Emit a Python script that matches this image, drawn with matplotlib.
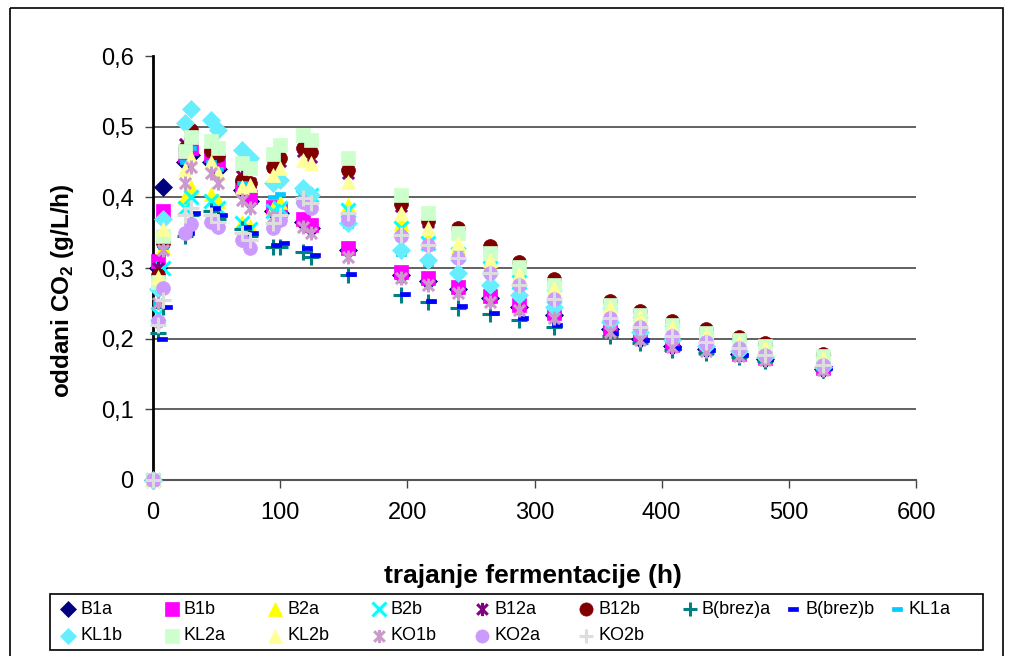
import matplotlib
matplotlib.use("Agg")
import matplotlib.pyplot as plt
from matplotlib.path import Path
from matplotlib.patches import Rectangle

plt.rcParams['font.family'] = ['Liberation Sans', 'DejaVu Sans']
plt.rcParams['mathtext.fontset'] = 'custom'
plt.rcParams['mathtext.bf'] = 'Liberation Sans:bold'
plt.rcParams['mathtext.rm'] = 'Liberation Sans'

# ---- data ----
hours = [0, 4, 8, 25, 30, 46, 51, 70, 76, 94, 100, 118, 124, 153, 195, 216,
         240, 265, 288, 315, 359, 383, 408, 435, 461, 481, 527]
hours_brez_b = [0, 7, 11, 28, 33, 49, 54, 73, 79, 97, 103, 121, 127, 156, 198, 219,
                243, 268, 291, 318, 362, 386, 411, 438, 464, 484, 530]

B1a = [0, 0.30, 0.415, 0.45, 0.46, 0.45, 0.44, 0.41, 0.395, 0.38, 0.378, 0.365, 0.356, 0.325,
       0.29, 0.282, 0.27, 0.257, 0.245, 0.233, 0.213, 0.20, 0.19, 0.186, 0.178, 0.171, 0.157]
B1b = [0, 0.31, 0.38, 0.46, 0.47, 0.46, 0.45, 0.415, 0.40, 0.386, 0.382, 0.37, 0.361, 0.328,
       0.294, 0.286, 0.273, 0.26, 0.248, 0.236, 0.215, 0.202, 0.191, 0.187, 0.179, 0.172, 0.158]
B2a = [0, 0.28, 0.33, 0.40, 0.415, 0.405, 0.395, 0.365, 0.36, 0.385, 0.393, 0.406, 0.40, 0.389,
       0.363, 0.342, 0.33, 0.305, 0.285, 0.265, 0.24, 0.226, 0.213, 0.202, 0.193, 0.185, 0.17]
B2b = [0, 0.235, 0.30, 0.385, 0.40, 0.395, 0.385, 0.363, 0.355, 0.38, 0.385, 0.40, 0.403, 0.382,
       0.356, 0.335, 0.32, 0.30, 0.28, 0.26, 0.235, 0.222, 0.21, 0.20, 0.19, 0.183, 0.168]
B12a = [0, 0.30, 0.34, 0.475, 0.49, 0.47, 0.46, 0.43, 0.42, 0.445, 0.452, 0.465, 0.457, 0.434,
        0.388, 0.365, 0.354, 0.329, 0.306, 0.282, 0.25, 0.236, 0.222, 0.21, 0.20, 0.192, 0.176]
B12b = [0, 0.29, 0.335, 0.47, 0.495, 0.465, 0.46, 0.425, 0.42, 0.443, 0.455, 0.47, 0.464, 0.438,
        0.39, 0.367, 0.356, 0.331, 0.308, 0.284, 0.253, 0.239, 0.225, 0.213, 0.202, 0.194, 0.178]
Bbreza = [0, 0.208, 0.245, 0.345, 0.375, 0.38, 0.37, 0.355, 0.345, 0.33, 0.33, 0.322, 0.315, 0.29,
          0.262, 0.252, 0.243, 0.235, 0.226, 0.217, 0.204, 0.194, 0.184, 0.18, 0.174, 0.168, 0.155]
Bbrezb = [0, 0.20, 0.245, 0.35, 0.378, 0.385, 0.375, 0.358, 0.35, 0.333, 0.335, 0.328, 0.318, 0.291,
          0.263, 0.254, 0.246, 0.236, 0.229, 0.22, 0.208, 0.198, 0.187, 0.184, 0.177, 0.171, 0.158]
KL1a = [0, 0.25, 0.33, 0.45, 0.47, 0.45, 0.44, 0.42, 0.41, 0.40, 0.405, 0.40, 0.39, 0.36,
        0.32, 0.305, 0.29, 0.272, 0.258, 0.242, 0.222, 0.208, 0.196, 0.189, 0.181, 0.173, 0.159]
KL1b = [0, 0.27, 0.37, 0.505, 0.525, 0.51, 0.495, 0.467, 0.455, 0.42, 0.425, 0.413, 0.403, 0.363,
        0.325, 0.311, 0.293, 0.276, 0.262, 0.245, 0.224, 0.21, 0.198, 0.19, 0.182, 0.174, 0.16]
KL2a = [0, 0.28, 0.345, 0.465, 0.485, 0.48, 0.47, 0.448, 0.441, 0.462, 0.474, 0.488, 0.481, 0.455,
        0.403, 0.378, 0.349, 0.321, 0.301, 0.276, 0.248, 0.233, 0.22, 0.208, 0.198, 0.19, 0.175]
KL2b = [0, 0.287, 0.355, 0.44, 0.455, 0.45, 0.435, 0.415, 0.417, 0.431, 0.441, 0.453, 0.448, 0.422,
        0.378, 0.356, 0.335, 0.311, 0.292, 0.271, 0.245, 0.23, 0.217, 0.205, 0.195, 0.188, 0.172]
KO1b = [0, 0.25, 0.325, 0.42, 0.443, 0.435, 0.42, 0.396, 0.385, 0.372, 0.37, 0.358, 0.349, 0.316,
        0.286, 0.276, 0.264, 0.252, 0.24, 0.229, 0.21, 0.198, 0.188, 0.183, 0.176, 0.17, 0.156]
KO2a = [0, 0.225, 0.272, 0.35, 0.362, 0.365, 0.358, 0.34, 0.328, 0.356, 0.368, 0.393, 0.385, 0.37,
        0.345, 0.332, 0.314, 0.293, 0.276, 0.256, 0.229, 0.217, 0.204, 0.195, 0.187, 0.177, 0.163]
KO2b = [0, 0.22, 0.255, 0.375, 0.385, 0.375, 0.365, 0.35, 0.34, 0.363, 0.375, 0.399, 0.392, 0.378,
        0.347, 0.332, 0.314, 0.293, 0.276, 0.256, 0.229, 0.217, 0.204, 0.195, 0.187, 0.177, 0.163]

series_names = ['B1a', 'B1b', 'B2a', 'B2b', 'B12a', 'B12b', 'B(brez)a', 'B(brez)b', 'KL1a',
                'KL1b', 'KL2a', 'KL2b', 'KO1b', 'KO2a', 'KO2b']
y_ticks = [0, 0.1, 0.2, 0.3, 0.4, 0.5, 0.6]
y_tick_labels = ['0', '0,1', '0,2', '0,3', '0,4', '0,5', '0,6']
x_ticks = [0, 100, 200, 300, 400, 500, 600]

# ---- custom markers ----
star_path = Path([(0, -1), (0, 1), (-0.8, -0.8), (0.8, 0.8), (-0.8, 0.8), (0.8, -0.8)],
                 [Path.MOVETO, Path.LINETO, Path.MOVETO, Path.LINETO, Path.MOVETO, Path.LINETO])
dash_path = Path([(-1, -0.4), (1, -0.4), (1, 0.4), (-1, 0.4), (-1, -0.4)],
                 [Path.MOVETO, Path.LINETO, Path.LINETO, Path.LINETO, Path.CLOSEPOLY])

styles = {
    'B1a': dict(marker='D', color='#000080', ms=9, filled=True),
    'B1b': dict(marker='s', color='#FF00FF', ms=10, filled=True),
    'B2a': dict(marker='^', color='#FFFF00', ms=10, filled=True),
    'B2b': dict(marker='x', color='#00FFFF', ms=10, filled=False),
    'B12a': dict(marker=star_path, color='#800080', ms=10, filled=False),
    'B12b': dict(marker='o', color='#800000', ms=10, filled=True),
    'B(brez)a': dict(marker='+', color='#008080', ms=11, filled=False),
    'B(brez)b': dict(marker=dash_path, color='#0000FF', ms=7, filled=True),
    'KL1a': dict(marker=dash_path, color='#00CCFF', ms=7, filled=True),
    'KL1b': dict(marker='D', color='#66EEFF', ms=9, filled=True),
    'KL2a': dict(marker='s', color='#CCFFCC', ms=10, filled=True),
    'KL2b': dict(marker='^', color='#FFFF99', ms=10, filled=True),
    'KO1b': dict(marker=star_path, color='#CC99CC', ms=10, filled=False),
    'KO2a': dict(marker='o', color='#CC99FF', ms=10, filled=True),
    'KO2b': dict(marker='+', color='#DDDDDD', ms=11, filled=False),
}
values = [B1a, B1b, B2a, B2b, B12a, B12b, Bbreza, Bbrezb, KL1a, KL1b, KL2a, KL2b, KO1b, KO2a, KO2b]


def marker_kw(st, scale=1.0):
    if st['filled']:
        return dict(marker=st['marker'], ms=st['ms'] * scale, markerfacecolor=st['color'],
                    markeredgecolor=st['color'], mew=0.5)
    return dict(marker=st['marker'], ms=st['ms'] * scale, color=st['color'], mew=2.2)


fig = plt.figure(figsize=(10.13, 6.56), dpi=100)
ax = fig.add_axes([153 / 1013, 1 - 480 / 656, (916 - 153) / 1013, (480 - 56) / 656])

for name, vals in zip(series_names, values):
    st = styles[name]
    xs = hours_brez_b if name == 'B(brez)b' else hours
    ax.plot(xs, vals, linestyle='none', label=name, clip_on=False, zorder=3, **marker_kw(st))

ax.set_xlim(0, 600)
ax.set_ylim(0, 0.6)
ax.set_xticks(x_ticks)
ax.set_xticklabels([str(v) for v in x_ticks])
ax.set_yticks(y_ticks)
ax.set_yticklabels(y_tick_labels)
ax.tick_params(axis='both', labelsize=17, direction='out', length=6, width=1, color='#444444')
ax.tick_params(axis='y', pad=8)
ax.tick_params(axis='x', pad=10)
for yv in y_ticks[1:-1]:
    ax.axhline(yv, color='#555555', lw=1.3, zorder=1)
for s in ['top', 'right']:
    ax.spines[s].set_visible(False)
ax.spines['left'].set_color('black')
ax.spines['left'].set_linewidth(2)
ax.spines['bottom'].set_color('#555555')
ax.spines['bottom'].set_linewidth(1.5)

fig.text(533 / 1013, 1 - 576 / 656, 'trajanje fermentacije (h)', fontsize=19,
         fontweight='bold', ha='center', va='center')
fig.text(62 / 1013, 1 - 291 / 656, r'oddani CO$_{\mathbf{2}}$ (g/L/h)', fontsize=17.5,
         fontweight='bold', ha='center', va='center', rotation=90)

# ---- overlay in pixel coordinates for legend and chart border ----
ov = fig.add_axes([0, 0, 1, 1], facecolor='none')
ov.set_xlim(0, 1013)
ov.set_ylim(656, 0)
ov.axis('off')
ov.add_patch(Rectangle((10, 8), 993, 700, fill=False, edgecolor='black', lw=1.2))
ov.add_patch(Rectangle((50, 594), 933, 56, fill=False, edgecolor='black', lw=1.2))

legend_rows = [['B1a', 'B1b', 'B2a', 'B2b', 'B12a', 'B12b', 'B(brez)a', 'B(brez)b', 'KL1a'],
               ['KL1b', 'KL2a', 'KL2b', 'KO1b', 'KO2a', 'KO2b']]
for r, row in enumerate(legend_rows):
    yy = 609 + 26.5 * r
    for c, name in enumerate(row):
        xx = 68 + 103.6 * c
        ov.plot([xx], [yy], linestyle='none', **marker_kw(styles[name], 0.95))
        ov.text(xx + 12, yy, name, fontsize=13, ha='left', va='center')

fig.savefig('out.png', dpi=100)
